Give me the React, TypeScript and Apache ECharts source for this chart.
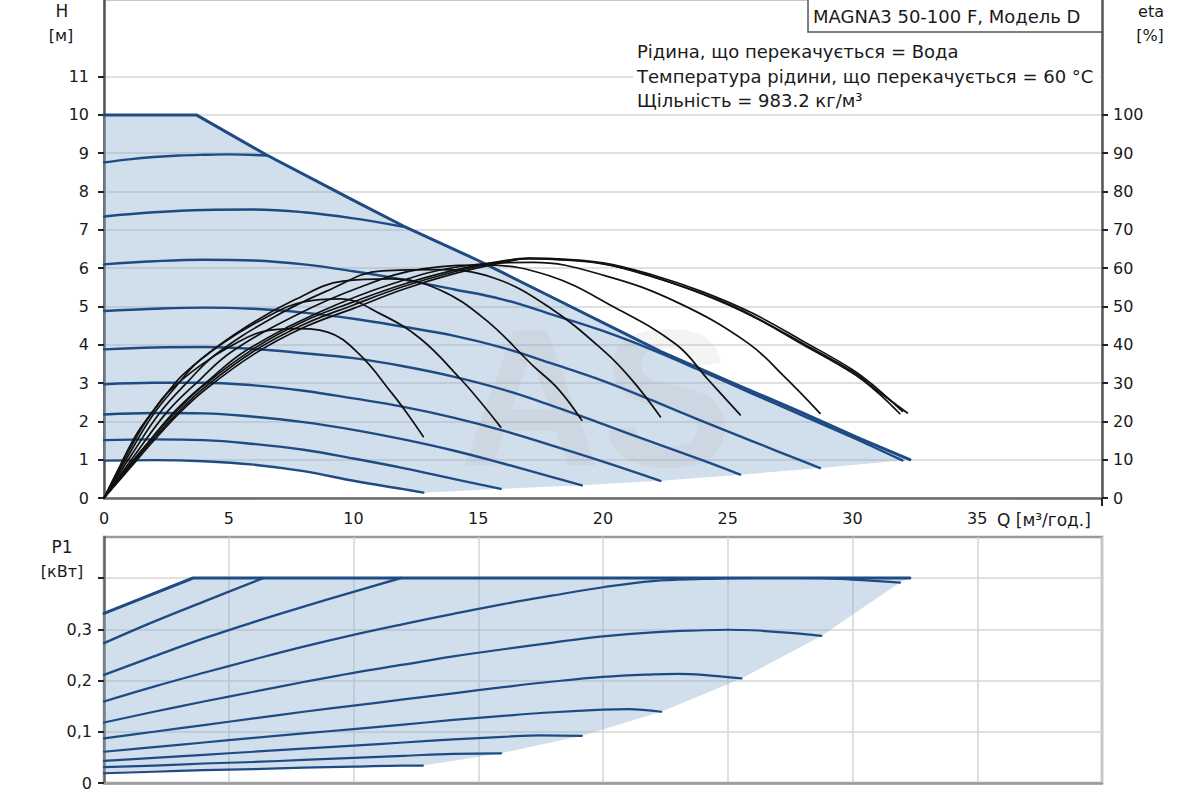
import React, { useEffect, useRef } from "react";
import * as echarts from "echarts";

const FONT = "'DejaVu Sans', 'Liberation Sans', sans-serif";
const BLUE = "#1e4b84";
const FILL = "rgba(140,172,206,0.4)";
const BLACK = "#111111";
const GRIDC = "#d6d6d6";

// ---- ticks / labels ----
const qLabelValues = [0, 5, 10, 15, 20, 25, 30, 35];
const hLabelValues = [0, 1, 2, 3, 4, 5, 6, 7, 8, 9, 10, 11];
const etaLabelValues = [0, 10, 20, 30, 40, 50, 60, 70, 80, 90, 100];
const p1TickValues = [0, 0.1, 0.2, 0.3, 0.4];
const p1LabelValues = [0, 0.1, 0.2, 0.3];

// ---- H(Q) curves [Q m3/h, H m] ----
const hMax = [[0, 10], [3.7, 10], [6.5, 8.96], [10, 7.77], [12, 7.1], [15, 6.2], [18.3, 5.13], [20.7, 4.35], [22.3, 3.83], [25, 3.06], [28, 2.22], [30.3, 1.55], [32.3, 1.0]];
const h875 = [[0, 8.76], [1, 8.84], [2, 8.9], [3, 8.94], [4, 8.96], [5, 8.97], [6.55, 8.94]];
const h735 = [[0, 7.35], [2, 7.46], [4, 7.52], [6, 7.53], [8, 7.46], [10, 7.3], [12, 7.08]];
const h61 = [[0, 6.1], [2, 6.18], [4, 6.22], [6, 6.2], [8, 6.1], [10, 5.92], [12, 5.7], [14, 5.45], [16, 5.18], [18, 4.78], [20, 4.36], [22, 3.86], [24, 3.3], [26, 2.72], [28, 2.15], [30, 1.58], [32, 0.98]];
const h49 = [[0, 4.88], [2, 4.94], [4, 4.97], [6, 4.94], [8, 4.84], [10, 4.68], [12, 4.47], [14, 4.24], [16, 3.92], [18, 3.5], [20, 3.06], [22, 2.54], [24, 2.0], [26, 1.48], [28, 0.96], [28.7, 0.78]];
const h39 = [[0, 3.88], [2, 3.93], [4, 3.94], [6, 3.89], [8, 3.78], [10, 3.65], [12, 3.44], [14, 3.17], [16, 2.83], [18, 2.4], [20, 1.93], [22, 1.45], [24, 0.98], [25.5, 0.61]];
const h30 = [[0, 2.97], [2, 3.01], [4, 3.01], [6, 2.94], [8, 2.8], [10, 2.6], [12, 2.38], [14, 2.1], [16, 1.76], [18, 1.36], [20, 0.95], [22.3, 0.45]];
const h22 = [[0, 2.18], [2, 2.22], [4, 2.21], [6, 2.12], [8, 1.98], [10, 1.78], [12, 1.53], [14, 1.24], [16, 0.9], [18, 0.54], [19.15, 0.33]];
const h15 = [[0, 1.51], [2, 1.53], [4, 1.51], [6, 1.41], [8, 1.26], [10, 1.03], [12, 0.78], [14, 0.5], [15.9, 0.24]];
const h10 = [[0, 0.975], [2, 0.99], [4, 0.96], [6, 0.87], [8, 0.7], [10, 0.45], [12, 0.23], [12.8, 0.14]];
const hEdge = [[32.3, 1.0], [28.7, 0.78], [25.5, 0.61], [22.3, 0.45], [19.15, 0.33], [15.9, 0.24], [12.8, 0.14]];

// ---- eta(Q) curves [Q, %] ----
const etaA1 = [[0, 0], [1, 7.5], [2, 15], [3, 22], [4, 28], [6, 37.5], [8, 44.5], [10, 49.5], [12, 54.5], [14, 58.5], [16, 61.5], [17, 62.5], [18, 62.4], [20, 61.2], [22, 57.8], [24, 53.3], [25, 50.7], [26, 47.6], [28, 40.4], [30, 33.0], [31, 28.0], [32.2, 22.2]];
const etaA2 = [[0, 0], [1, 8], [2, 15.6], [3, 22.6], [4, 28.7], [6, 38.3], [8, 45.3], [10, 50.4], [12, 55.2], [14, 59], [16, 61.8], [17, 62.6], [18, 62.5], [20, 61.4], [22, 58.2], [24, 53.8], [26, 48.2], [28, 41], [30, 33.5], [31, 28.5], [32, 22.6]];
const etaA3 = [[0, 0], [1, 8.5], [2, 16.2], [3, 23.3], [4, 29.4], [6, 39], [8, 46.1], [10, 51.2], [12, 55.8], [14, 59.4], [16, 61.9], [17, 62.5], [18, 62.3], [20, 61.1], [22, 57.7], [24, 53.2], [26, 47.4], [28, 40.1], [30, 32.6], [31, 27.6], [31.9, 22.0]];
const etaB = [[0, 0], [1.44, 11.8], [2.87, 22.9], [4.3, 31.3], [5.74, 38.7], [8.6, 48.4], [11.5, 55.8], [14.35, 60.5], [17.2, 61.5], [20.1, 58], [23.0, 51], [25.8, 40.5], [27.3, 31.5], [28.7, 22.1]];
const etaC = [[0, 0], [1.28, 11.6], [2.55, 22.6], [3.83, 30.8], [5.1, 38.1], [7.65, 47.6], [10.2, 54.9], [12.75, 59.8], [15.3, 60.8], [17.85, 58], [20.4, 50], [22.95, 40], [24.2, 31], [25.5, 21.7]];
const etaD = [[0, 0], [1.12, 11.4], [2.23, 22.2], [3.35, 30.3], [4.46, 37.4], [6.69, 46.8], [8.92, 54], [11.15, 59.3], [13.4, 59.6], [15.6, 57.5], [17.8, 50], [20.1, 38], [21.2, 30.5], [22.3, 21.2]];
const etaE = [[0, 0], [0.96, 10.9], [1.92, 21.3], [2.87, 29], [3.83, 35.9], [5.75, 44.9], [7.66, 51.8], [9.58, 56.6], [11.5, 57.2], [13.4, 54.5], [15.3, 46.5], [17.2, 34.5], [18.2, 28.5], [19.15, 20.3]];
const etaF = [[0, 0], [0.8, 9.9], [1.6, 19.2], [2.4, 26.3], [3.2, 32.4], [4.8, 40.6], [6.4, 46.8], [8, 51.2], [9.5, 52], [11.1, 48], [12.7, 41.5], [14.3, 31], [15.1, 25], [15.9, 18.5]];
const etaG = [[0, 0], [0.64, 8.4], [1.28, 16.4], [1.92, 22.3], [2.56, 27.6], [3.84, 34.5], [5.12, 39.8], [6.4, 43.5], [7.68, 44.2], [8.96, 43.3], [10.24, 37.5], [11.52, 27.5], [12.16, 22], [12.8, 16]];

// ---- P1(Q) curves [Q, kW] ----
const pMax = [[0, 0.331], [3.57, 0.4], [32.3, 0.4]];
const p875 = [[0, 0.273], [2, 0.315], [4, 0.354], [6.4, 0.4]];
const p735 = [[0, 0.211], [2, 0.247], [4, 0.282], [6, 0.314], [8, 0.344], [10, 0.373], [11.9, 0.4]];
const p61 = [[0, 0.159], [2, 0.188], [4, 0.215], [6, 0.241], [8, 0.266], [10, 0.289], [12, 0.31], [14, 0.33], [16, 0.349], [18, 0.366], [20, 0.382], [22, 0.394], [24, 0.398], [26, 0.4], [28, 0.4], [30, 0.397], [31.9, 0.391]];
const p49 = [[0, 0.118], [2, 0.139], [4, 0.159], [6, 0.178], [8, 0.197], [10, 0.215], [12, 0.231], [14, 0.247], [16, 0.261], [18, 0.274], [20, 0.286], [22, 0.294], [24, 0.298], [25, 0.299], [26, 0.298], [27.5, 0.293], [28.75, 0.287]];
const p39 = [[0, 0.087], [2, 0.1], [4, 0.113], [6, 0.126], [8, 0.139], [10, 0.151], [12, 0.163], [14, 0.175], [16, 0.187], [18, 0.198], [20, 0.207], [22, 0.212], [23, 0.213], [24, 0.211], [25.55, 0.204]];
const p30 = [[0, 0.061], [2, 0.07], [4, 0.079], [6, 0.088], [8, 0.097], [10, 0.105], [12, 0.114], [14, 0.123], [16, 0.131], [18, 0.138], [20, 0.143], [21, 0.144], [22.33, 0.139]];
const p22 = [[0, 0.043], [2, 0.049], [4, 0.055], [6, 0.061], [8, 0.067], [10, 0.073], [12, 0.079], [14, 0.085], [16, 0.09], [17.5, 0.093], [19.15, 0.092]];
const p15 = [[0, 0.031], [2, 0.034], [4, 0.038], [6, 0.041], [8, 0.045], [10, 0.049], [12, 0.053], [14, 0.057], [15.92, 0.058]];
const p10 = [[0, 0.019], [2, 0.022], [4, 0.025], [6, 0.027], [8, 0.03], [10, 0.032], [12, 0.034], [12.78, 0.034]];
const pEdge = [[32.3, 0.4], [31.9, 0.391], [28.75, 0.287], [25.55, 0.204], [22.33, 0.139], [19.15, 0.092], [15.92, 0.058], [12.78, 0.034]];

const infoTitle = "MAGNA3 50-100 F, Модель D";
const infoLines = [
  "Рідина, що перекачується = Вода",
  "Температура рідини, що перекачується = 60 °C",
  "Щільність = 983.2 кг/м³",
];

function polygonSeries(points: number[][], xi: number, yi: number) {
  return {
    type: "custom",
    xAxisIndex: xi,
    yAxisIndex: yi,
    silent: true,
    z: 1,
    data: [[0, 0]],
    renderItem: (_p: any, api: any) => ({
      type: "polygon",
      shape: { points: points.map((pt) => api.coord(pt)) },
      style: { fill: FILL },
    }),
  };
}

function lineSeries(data: number[][], xi: number, yi: number, color: string, width: number, smooth = true, z = 3) {
  return {
    type: "line",
    xAxisIndex: xi,
    yAxisIndex: yi,
    data,
    smooth: smooth ? 0.4 : false,
    symbol: "none",
    showSymbol: false,
    silent: true,
    z,
    lineStyle: { color, width, cap: "round", join: "round" },
  };
}

function txt(text: string, x: number, y: number, size: number, align = "left", extra: any = {}) {
  return {
    type: "text",
    x,
    y,
    z: 20,
    style: {
      text,
      fontSize: size,
      fontFamily: FONT,
      fill: "#1a1a1a",
      align,
      textAlign: align,
      verticalAlign: "middle",
      textVerticalAlign: "middle",
      ...extra,
    },
  };
}

export default function App() {
  const ref = useRef<HTMLDivElement>(null);
  useEffect(() => {
    if (!ref.current) return;
    const chart = echarts.init(ref.current, undefined, { renderer: "svg" });

    const hFill = [...hMax, ...hEdge.slice(1), ...h10.slice(0, -1).reverse()];
    const pFill = [...pMax, ...pEdge.slice(1), ...p10.slice(0, -1).reverse()];

    const labelStyle = { fontSize: 16, color: "#1a1a1a", fontFamily: FONT };

    const option: any = {
      animation: false,
      backgroundColor: "#ffffff",
      textStyle: { fontFamily: FONT },
      grid: [
        { left: 104, right: 98, top: 0, height: 498, show: true, borderColor: "#b5b5b5", borderWidth: 1.5, backgroundColor: "transparent" },
        { left: 104, right: 98, top: 537, height: 246, show: true, borderColor: "#9a9a9a", borderWidth: 2.5, backgroundColor: "transparent" },
      ],
      xAxis: [
        {
          gridIndex: 0, type: "value", min: 0, max: 40, interval: 5,
          axisLine: { show: true, lineStyle: { color: "#6a6a6a", width: 2.5 } },
          axisTick: { show: true, customValues: [40], length: 8, lineStyle: { color: "#222", width: 2 } },
          axisLabel: { ...labelStyle, customValues: qLabelValues, margin: 12 },
          splitLine: { show: true, lineStyle: { color: GRIDC, width: 1.5 } },
        },
        {
          gridIndex: 1, type: "value", min: 0, max: 40, interval: 5,
          axisLine: { show: true, lineStyle: { color: "#9a9a9a", width: 2.5 } },
          axisTick: { show: false },
          axisLabel: { show: false },
          splitLine: { show: true, lineStyle: { color: GRIDC, width: 1.5 } },
        },
      ],
      yAxis: [
        {
          gridIndex: 0, type: "value", min: 0, max: 13, interval: 1,
          axisLine: { show: true, lineStyle: { color: "#555", width: 2.5 } },
          axisTick: { show: true, customValues: hLabelValues, length: 6, lineStyle: { color: "#222", width: 2 } },
          axisLabel: { ...labelStyle, customValues: hLabelValues, margin: 15 },
          splitLine: { show: true, lineStyle: { color: GRIDC, width: 1.5 } },
        },
        {
          gridIndex: 0, type: "value", position: "right", min: 0, max: 130, interval: 10,
          axisLine: { show: true, lineStyle: { color: "#555", width: 2.5 } },
          axisTick: { show: true, customValues: etaLabelValues, length: 6, lineStyle: { color: "#222", width: 2 } },
          axisLabel: { ...labelStyle, customValues: etaLabelValues, margin: 11 },
          splitLine: { show: false },
        },
        {
          gridIndex: 1, type: "value", min: 0, max: 0.48, interval: 0.1,
          axisLine: { show: true, lineStyle: { color: "#666", width: 2.5 } },
          axisTick: { show: true, customValues: p1TickValues, length: 6, lineStyle: { color: "#222", width: 2 } },
          axisLabel: {
            ...labelStyle, customValues: p1LabelValues, margin: 12,
            formatter: (v: number) => (v === 0 ? "0" : v.toFixed(1).replace(".", ",")),
          },
          splitLine: { show: true, lineStyle: { color: GRIDC, width: 1.5 } },
        },
      ],
      series: [
        polygonSeries(hFill, 0, 0),
        lineSeries(h10, 0, 0, BLUE, 2.4),
        lineSeries(h15, 0, 0, BLUE, 2.4),
        lineSeries(h22, 0, 0, BLUE, 2.4),
        lineSeries(h30, 0, 0, BLUE, 2.4),
        lineSeries(h39, 0, 0, BLUE, 2.4),
        lineSeries(h49, 0, 0, BLUE, 2.4),
        lineSeries(h61, 0, 0, BLUE, 2.4),
        lineSeries(h735, 0, 0, BLUE, 2.4),
        lineSeries(h875, 0, 0, BLUE, 2.4),
        lineSeries(hMax, 0, 0, BLUE, 3, false),
        lineSeries(etaG, 0, 1, BLACK, 1.7, true, 4),
        lineSeries(etaF, 0, 1, BLACK, 1.7, true, 4),
        lineSeries(etaE, 0, 1, BLACK, 1.7, true, 4),
        lineSeries(etaD, 0, 1, BLACK, 1.7, true, 4),
        lineSeries(etaC, 0, 1, BLACK, 1.7, true, 4),
        lineSeries(etaB, 0, 1, BLACK, 1.7, true, 4),
        lineSeries(etaA1, 0, 1, BLACK, 1.7, true, 4),
        lineSeries(etaA2, 0, 1, BLACK, 1.7, true, 4),
        lineSeries(etaA3, 0, 1, BLACK, 1.7, true, 4),
        polygonSeries(pFill, 1, 2),
        lineSeries(p10, 1, 2, BLUE, 2.2),
        lineSeries(p15, 1, 2, BLUE, 2.2),
        lineSeries(p22, 1, 2, BLUE, 2.2),
        lineSeries(p30, 1, 2, BLUE, 2.2),
        lineSeries(p39, 1, 2, BLUE, 2.2),
        lineSeries(p49, 1, 2, BLUE, 2.2),
        lineSeries(p61, 1, 2, BLUE, 2.2),
        lineSeries(p735, 1, 2, BLUE, 2.4),
        lineSeries(p875, 1, 2, BLUE, 2.4),
        lineSeries(pMax, 1, 2, BLUE, 3, false),
      ],
      graphic: [
        {
          type: "text", x: 596, y: 398, z: 2,
          style: {
            text: "AS", fontSize: 196, fontWeight: "bold", fontFamily: "'Liberation Sans', sans-serif",
            fill: "rgba(170,170,170,0.13)", align: "center", textAlign: "center",
            verticalAlign: "middle", textVerticalAlign: "middle",
          },
        },
        { type: "rect", z: 18, shape: { x: 633, y: 40, width: 467, height: 73 }, style: { fill: "#ffffff" } },
        { type: "rect", z: 18, shape: { x: 808, y: -1, width: 294, height: 33 }, style: { fill: "#ffffff", stroke: "#555", lineWidth: 1.5 } },
        txt(infoTitle, 813, 16, 18),
        txt(infoLines[0], 637, 51, 18),
        txt(infoLines[1], 637, 76, 18),
        txt(infoLines[2], 637, 100, 18),
        txt("H", 62, 11, 17, "center"),
        txt("[м]", 61, 35, 16, "center"),
        txt("eta", 1151, 11, 16, "center"),
        txt("[%]", 1150, 35, 16, "center"),
        txt("P1", 62, 547, 17, "center"),
        txt("[кВт]", 62, 571, 16, "center"),
        txt("Q [м³/год.]", 997, 520, 17, "left"),
      ],
    };

    chart.setOption(option);
    return () => chart.dispose();
  }, []);

  return (
    <div
      ref={ref}
      style={{ position: "fixed", left: 0, top: 0, width: 1200, height: 800, background: "#fff" }}
    />
  );
}
